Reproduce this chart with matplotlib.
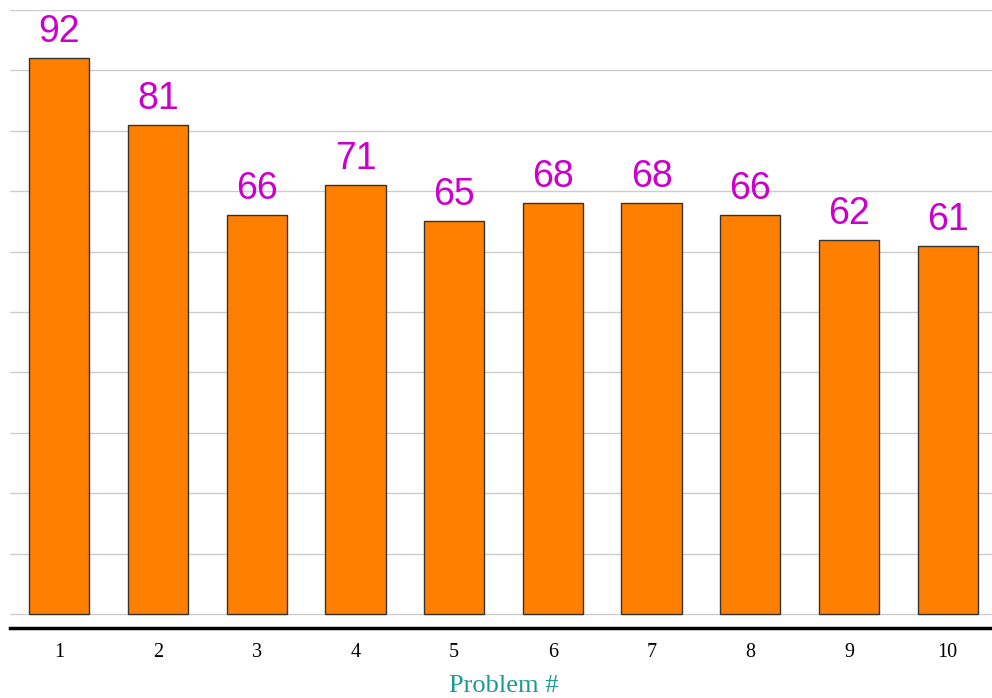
import numpy as np
import matplotlib.pyplot as plt

problems = ["1", "2", "3", "4", "5", "6", "7", "8", "9", "10"]
scores = [92, 81, 66, 71, 65, 68, 68, 66, 62, 61]

fig = plt.figure(figsize=(9.92, 6.98), dpi=100)
ax = fig.add_axes([10 / 992, 70 / 698, 987 / 992, 618 / 698])

x = np.arange(len(problems))
ax.bar(x, scores, width=0.61, color="#ff8000", edgecolor="#333333", linewidth=1, zorder=3)

# value labels above bars
for xi, v in zip(x, scores):
    ax.text(xi, v + 2.65, str(v), ha="center", va="baseline", color="#cc00cc",
            fontsize=27, family="Liberation Sans")

ax.set_xlim(-0.5, 9.5)
ax.set_ylim(-2.3, 100)
ax.set_yticks(np.arange(0, 101, 10))
ax.set_yticklabels([])
ax.tick_params(axis="y", length=0)
ax.grid(axis="y", color="#cccccc", linewidth=1, zorder=0)

ax.set_xticks(x)
ax.set_xticklabels(problems, family="Liberation Serif", fontsize=14.5)
ax.tick_params(axis="x", length=0, pad=11)
ax.set_xlabel("Problem #", family="Liberation Serif", fontsize=19, color="#1a9a96", labelpad=9)

for s in ["top", "left", "right"]:
    ax.spines[s].set_visible(False)
ax.spines["bottom"].set_linewidth(2.5)
ax.spines["bottom"].set_color("black")

fig.savefig("out.png", dpi=100)
